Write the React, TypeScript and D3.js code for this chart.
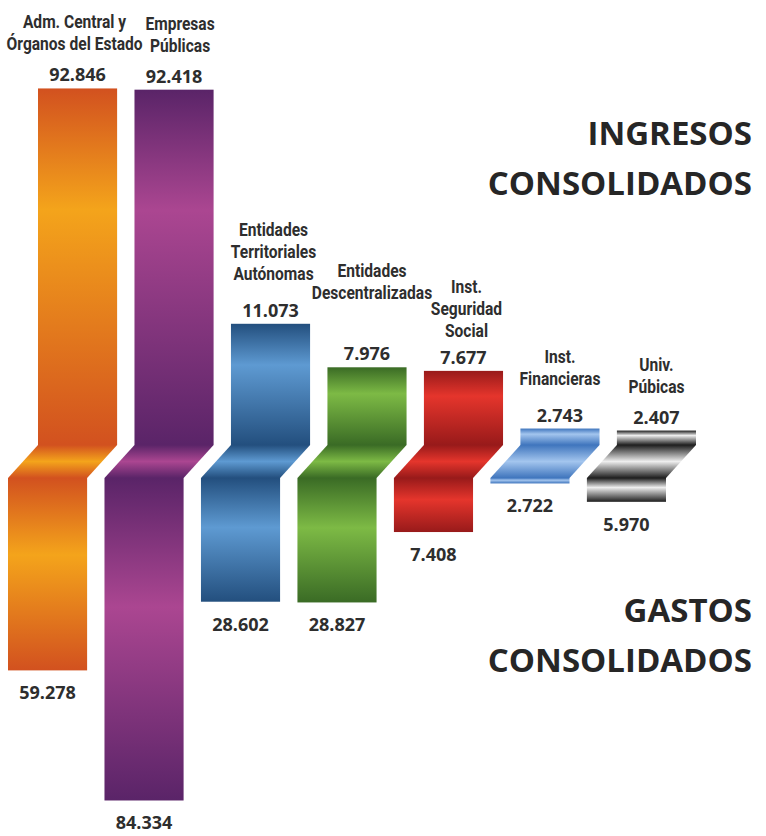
import React from "react";
import * as d3 from "d3";

// ---------- data ----------
const categories = [
  "Adm. Central y Órganos del Estado",
  "Empresas Públicas",
  "Entidades Territoriales Autónomas",
  "Entidades Descentralizadas",
  "Inst. Seguridad Social",
  "Inst. Financieras",
  "Univ. Púbicas",
];
const categoryLines = [
  ["Adm. Central y", "Órganos del Estado"],
  ["Empresas", "Públicas"],
  ["Entidades", "Territoriales", "Autónomas"],
  ["Entidades", "Descentralizadas"],
  ["Inst.", "Seguridad", "Social"],
  ["Inst.", "Financieras"],
  ["Univ.", "Púbicas"],
];
const ingresos = [92846, 92418, 11073, 7976, 7677, 2743, 2407];
const gastos = [59278, 84334, 28602, 28827, 7408, 2722, 5970];
const titleTop = ["INGRESOS", "CONSOLIDADOS"];
const titleBottom = ["GASTOS", "CONSOLIDADOS"];

// ---------- styles / layout ----------
const palette = [
  { dark: "#d2511f", light: "#f4a41b" },
  { dark: "#5a2468", light: "#ab4691" },
  { dark: "#234f7e", light: "#5e9ad2" },
  { dark: "#3a6b25", light: "#7dba45" },
  { dark: "#981a1a", light: "#e5352c" },
  { dark: "#3f75bd", light: "#a3c5ee" },
  { dark: "#1e1e1e", light: "#eeeeee" },
];
const nameShift = [
  { dx: -3, dy: 0 },
  { dx: 6, dy: 0 },
  { dx: 3, dy: -6 },
  { dx: 5, dy: -30 },
  { dx: 3, dy: 4 },
  { dx: 0, dy: -6 },
  { dx: 0, dy: 0 },
];
const W = 766;
const H = 836;
const baseIn = 445; // bottom of income bars
const baseOut = 478; // top of expense bars
const shift = 30; // horizontal offset of expense bars

const fmt = d3.formatLocale({
  decimal: ",",
  thousands: ".",
  grouping: [3],
  currency: ["", ""],
}).format(",d");

export default function App() {
  const x = d3
    .scaleBand<string>()
    .domain(categories)
    .range([38, 696])
    .paddingInner(0.18)
    .paddingOuter(0);
  const bw = x.bandwidth();

  // hand-drawn infographic: piecewise (non-uniform) scales
  const hIn = d3
    .scaleLinear()
    .domain([0, 3000, 8000, 11000, 93000])
    .range([0, 18, 78, 121, 357]);
  const hOut = d3
    .scaleLinear()
    .domain([0, 3000, 6000, 7500, 29000, 60000, 85000])
    .range([0, 6, 24, 56, 125, 194, 326]);

  const nameFont = "Roboto, 'DejaVu Sans', sans-serif";
  const numFont = "'Open Sans', 'Liberation Sans', sans-serif";
  const txt = "#2e2e2e";

  return (
    <svg
      width={W}
      height={H}
      style={{ position: "absolute", left: 0, top: 0, background: "#fff" }}
    >
      <defs>
        {palette.map((p, i) => (
          <React.Fragment key={i}>
            <linearGradient id={`up${i}`} x1="0" y1="0" x2="0" y2="1">
              <stop offset="0" stopColor={p.dark} />
              <stop offset="0.34" stopColor={p.light} />
              <stop offset="1" stopColor={p.dark} />
            </linearGradient>
            <linearGradient id={`sl${i}`} x1="0" y1="0" x2="0" y2="1">
              <stop offset="0" stopColor={p.dark} />
              <stop offset="0.5" stopColor={p.light} />
              <stop offset="1" stopColor={p.dark} />
            </linearGradient>
            <linearGradient id={`lo${i}`} x1="0" y1="0" x2="0" y2="1">
              <stop offset="0" stopColor={p.dark} />
              <stop offset="0.4" stopColor={p.light} />
              <stop offset="1" stopColor={p.dark} />
            </linearGradient>
          </React.Fragment>
        ))}
      </defs>

      {categories.map((c, i) => {
        const x0 = x(c)!;
        const hi = hIn(ingresos[i]);
        const ho = hOut(gastos[i]);
        const top = baseIn - hi;
        const bottom = baseOut + ho;
        const slant = d3.path();
        slant.moveTo(x0, baseIn);
        slant.lineTo(x0 + bw, baseIn);
        slant.lineTo(x0 + bw - shift, baseOut);
        slant.lineTo(x0 - shift, baseOut);
        slant.closePath();
        const cx = x0 + bw / 2;
        const cxLow = cx - shift;
        const lines = categoryLines[i];
        const ns = nameShift[i];
        const valueY = top - 7;
        const lastNameY = valueY - 31 + ns.dy;
        return (
          <g key={c}>
            <rect x={x0} y={top} width={bw} height={hi} fill={`url(#up${i})`} />
            <path d={slant.toString()} fill={`url(#sl${i})`} />
            <rect
              x={x0 - shift}
              y={baseOut}
              width={bw}
              height={ho}
              fill={`url(#lo${i})`}
            />
            <text
              x={cx}
              y={valueY}
              textAnchor="middle"
              fontFamily={numFont}
              fontWeight={700}
              fontSize={18}
              fill={txt}
            >
              {fmt(ingresos[i])}
            </text>
            <text
              x={cxLow}
              y={bottom + 29}
              textAnchor="middle"
              fontFamily={numFont}
              fontWeight={700}
              fontSize={18}
              fill={txt}
            >
              {fmt(gastos[i])}
            </text>
            {lines.map((l, k) => (
              <g
                key={k}
                transform={`translate(${cx + ns.dx},${
                  lastNameY - (lines.length - 1 - k) * 22
                }) scale(0.82,1)`}
              >
                <text
                  x={0}
                  y={0}
                  textAnchor="middle"
                  fontFamily={nameFont}
                  fontWeight={700}
                  fontSize={19}
                  fill={txt}
                >
                  {l}
                </text>
              </g>
            ))}
          </g>
        );
      })}

      {titleTop.map((t, k) => (
        <text
          key={t + k}
          x={752}
          y={145 + k * 50}
          textAnchor="end"
          fontFamily={numFont}
          fontWeight={700}
          fontSize={33}
          fill="#262626"
        >
          {t}
        </text>
      ))}
      {titleBottom.map((t, k) => (
        <text
          key={t + k}
          x={752}
          y={622 + k * 50}
          textAnchor="end"
          fontFamily={numFont}
          fontWeight={700}
          fontSize={33}
          fill="#262626"
        >
          {t}
        </text>
      ))}
    </svg>
  );
}
